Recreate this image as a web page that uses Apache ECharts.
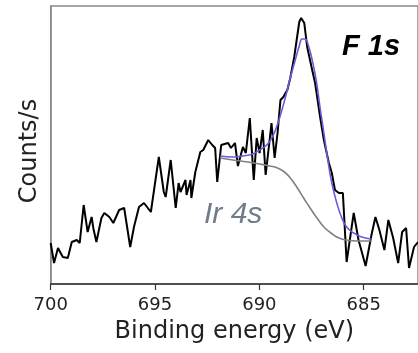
<!DOCTYPE html>
<html>
<head>
<meta charset="utf-8">
<script src="https://cdn.jsdelivr.net/npm/echarts@6/dist/echarts.min.js"></script>
<style>
  html, body { margin: 0; padding: 0; background: #fff; }
  #chart { width: 418px; height: 353px; }
</style>
</head>
<body>
<div id="chart"></div>
<script>
// measured spectrum, binding energy (eV) / counts (arb.)
const rawEnergy = [700.00, 699.84, 699.65, 699.42, 699.18, 698.99, 698.75, 698.61, 698.42, 698.23,
  698.04, 697.95, 697.81, 697.57, 697.43, 697.19, 697.00, 696.72, 696.48, 696.19,
  696.01, 695.77, 695.53, 695.20, 694.82, 694.58, 694.49, 694.25, 694.01, 693.87,
  693.78, 693.54, 693.49, 693.30, 693.26, 693.07, 692.83, 692.69, 692.45, 692.26,
  692.12, 692.02, 691.83, 691.50, 691.36, 691.17, 691.03, 690.79, 690.65, 690.46,
  690.27, 690.13, 689.99, 689.84, 689.70, 689.51, 689.42, 689.27, 689.13, 688.99,
  688.85, 688.75, 688.66, 688.52, 688.33, 688.09, 688.00, 687.85, 687.71, 687.47,
  687.33, 687.09, 686.91, 686.67, 686.53, 686.38, 686.19, 686.00, 685.82, 685.48,
  685.25, 684.91, 684.63, 684.44, 684.25, 684.01, 683.82, 683.59, 683.35, 683.16,
  682.97, 682.83, 682.59, 682.40]
const rawCounts = [41, 21, 36, 27, 26, 42, 44, 41, 79, 52,
  67, 55, 42, 66, 71, 67, 61, 74, 76, 37,
  57, 77, 81, 72, 127, 92, 87, 124, 76, 101,
  92, 104, 89, 104, 86, 112, 132, 134, 144, 139,
  136, 102, 139, 141, 136, 141, 118, 137, 131, 166,
  104, 146, 131, 154, 109, 144, 161, 126, 151, 184,
  187, 191, 194, 206, 227, 262, 266, 261, 237, 214,
  201, 167, 144, 121, 111, 94, 91, 91, 22, 71,
  44, 18, 49, 67, 54, 34, 64, 46, 21, 52,
  56, 16, 37, 42]

// fitted envelope (F 1s + background)
const fitEnergy = [691.88, 691.27, 690.79, 690.32, 689.99, 689.70, 689.46, 689.23, 688.99, 688.75,
  688.52, 688.28, 688.09, 687.95, 687.81, 687.66, 687.47, 687.28, 687.09, 686.91,
  686.72, 686.53, 686.29, 686.05, 685.82, 685.48, 685.10, 684.63]
const fitCounts = [128, 127, 128, 130, 134, 138, 144, 154, 169, 187,
  206, 224, 238, 245, 245, 239, 224, 204, 176, 151,
  124, 101, 81, 66, 57, 51, 47, 45]

// Ir 4s background
const bgEnergy = [691.88, 691.27, 690.55, 689.99, 689.51, 689.13, 688.80, 688.52, 688.18, 687.85,
  687.57, 687.24, 686.91, 686.57, 686.19, 685.82, 685.34, 684.63]
const bgCounts = [126, 124, 122, 120, 118, 116, 112, 106, 96, 85,
  76, 66, 57, 51, 46, 44, 43, 43]

const tickValues = [685, 690, 695, 700]

const zip = (xs, ys) => xs.map((x, i) => [x, ys[i]])

const myChart = echarts.init(document.getElementById('chart'), null, { renderer: 'canvas' })

const option = {
  animation: false,
  grid: {
    left: 50.7,
    right: -4,
    top: 6,
    bottom: 69,
    show: true,
    borderColor: '#8a8a8a',
    borderWidth: 1.5
  },
  xAxis: {
    type: 'value',
    min: 682.4,
    max: 700,
    inverse: true,
    name: 'Binding energy (eV)',
    nameLocation: 'middle',
    nameGap: 36,
    nameTextStyle: { fontFamily: 'DejaVu Sans', fontSize: 24, color: '#222' },
    axisLine: { show: true, lineStyle: { color: '#333', width: 1.5 } },
    axisTick: { show: true, length: 6, customValues: tickValues, lineStyle: { color: '#333', width: 1.2 } },
    axisLabel: {
      customValues: tickValues,
      margin: 12,
      fontFamily: 'DejaVu Sans',
      fontSize: 18,
      color: '#222'
    },
    splitLine: { show: false }
  },
  yAxis: {
    type: 'value',
    min: 0,
    max: 278,
    axisLine: { show: true, lineStyle: { color: '#8a8a8a', width: 1.5 } },
    axisTick: { show: false },
    axisLabel: { show: false },
    splitLine: { show: false }
  },
  series: [
    {
      name: 'data',
      type: 'line',
      data: zip(rawEnergy, rawCounts),
      showSymbol: false,
      lineStyle: { color: '#000', width: 2 },
      z: 2
    },
    {
      name: 'Ir 4s',
      type: 'line',
      data: zip(bgEnergy, bgCounts),
      smooth: true,
      showSymbol: false,
      lineStyle: { color: '#808080', width: 1.6 },
      z: 3
    },
    {
      name: 'fit',
      type: 'line',
      data: zip(fitEnergy, fitCounts),
      smooth: true,
      showSymbol: false,
      lineStyle: { color: '#6a5cd8', width: 1.6 },
      z: 4
    }
  ],
  graphic: [
    {
      type: 'text',
      x: 30,
      y: 151,
      rotation: Math.PI / 2,
      style: {
        text: 'Counts/s',
        font: '24px "DejaVu Sans"',
        fill: '#222',
        align: 'center',
        verticalAlign: 'middle'
      }
    },
    {
      type: 'text',
      left: 342,
      top: 32,
      style: {
        text: 'F 1s',
        font: 'italic bold 29px "Liberation Sans"',
        fill: '#000'
      }
    },
    {
      type: 'text',
      left: 204,
      top: 200,
      style: {
        text: 'Ir 4s',
        font: 'italic 30px "Liberation Sans"',
        fill: '#6f7b88'
      }
    }
  ]
}

myChart.setOption(option)
</script>
</body>
</html>
